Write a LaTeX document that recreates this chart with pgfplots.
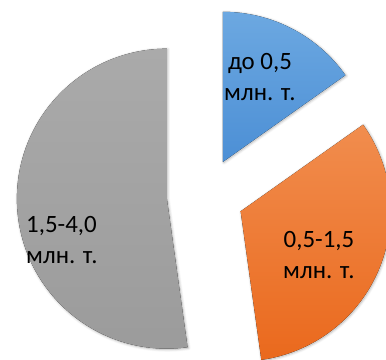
\documentclass[border=0pt]{standalone}
\usepackage{pgfplots}
\pgfplotsset{compat=1.18}
\usepackage{fontspec}
\setmainfont{Carlito}
\usetikzlibrary{shadows.blur}
\definecolor{bluetop}{HTML}{6CA8E1}
\definecolor{bluebot}{HTML}{4C8FD5}
\definecolor{ortop}{HTML}{F18D4E}
\definecolor{orbot}{HTML}{EA691D}
\definecolor{grtop}{HTML}{AAAAAA}
\definecolor{grbot}{HTML}{9B9B9B}
% data: share of each category (per cent)
\def\vA{15.2}% до 0,5 млн. т.
\def\vB{32.6}% 0,5-1,5 млн. т.
\def\vC{52.2}% 1,5-4,0 млн. т.
\def\cx{205.3}\def\cy{164}\def\R{150}\def\D{38.5}
\pgfmathsetmacro\tot{\vA+\vB+\vC}
\pgfmathsetmacro\aA{90}
\pgfmathsetmacro\aB{\aA-\vA/\tot*360}
\pgfmathsetmacro\aC{\aB-\vB/\tot*360}
\pgfmathsetmacro\aD{\aC-\vC/\tot*360}
\pgfmathsetmacro\mA{(\aA+\aB)/2}
\pgfmathsetmacro\mB{(\aB+\aC)/2}
\pgfmathsetmacro\mC{(\aC+\aD)/2}
\pgfmathsetmacro\pAx{\cx+\D*cos(\mA)}\pgfmathsetmacro\pAy{\cy+\D*sin(\mA)}
\pgfmathsetmacro\pBx{\cx+\D*cos(\mB)}\pgfmathsetmacro\pBy{\cy+\D*sin(\mB)}
\pgfmathsetmacro\pCx{\cx+\D*cos(\mC)}\pgfmathsetmacro\pCy{\cy+\D*sin(\mC)}
\begin{document}
\begin{tikzpicture}
\begin{axis}[
  name=ax,
  x=1bp, y=1bp,
  xmin=0, xmax=386, ymin=0, ymax=360,
  hide axis,
]
\tikzset{sl/.style={blur shadow={shadow xshift=0.8bp, shadow yshift=-0.8bp, shadow blur steps=6, shadow blur radius=2.5bp, shadow opacity=30}}}
\fill[sl, top color=bluetop, bottom color=bluebot]
  (axis cs:\pAx,\pAy) -- ++(\aA:\R bp) arc[start angle=\aA, end angle=\aB, radius=\R bp] -- cycle;
\fill[sl, top color=ortop, bottom color=orbot]
  (axis cs:\pBx,\pBy) -- ++(\aB:\R bp) arc[start angle=\aB, end angle=\aC, radius=\R bp] -- cycle;
\fill[sl, top color=grtop, bottom color=grbot]
  (axis cs:\pCx,\pCy) -- ++(\aC:\R bp) arc[start angle=\aC, end angle=\aD, radius=\R bp] -- cycle;
\node[align=center, font=\fontsize{25}{32}\selectfont, text=black] at (axis cs:260,283) {до 0,5\\млн. т.};
\node[align=center, font=\fontsize{25}{32}\selectfont, text=black] at (axis cs:319,105) {0,5-1,5\\млн. т.};
\node[align=left, font=\fontsize{25}{32}\selectfont, text=black] at (axis cs:62,120) {1,5-4,0\\млн. т.};
\end{axis}
\path (ax.south west) rectangle (ax.north east);
\end{tikzpicture}
\end{document}
